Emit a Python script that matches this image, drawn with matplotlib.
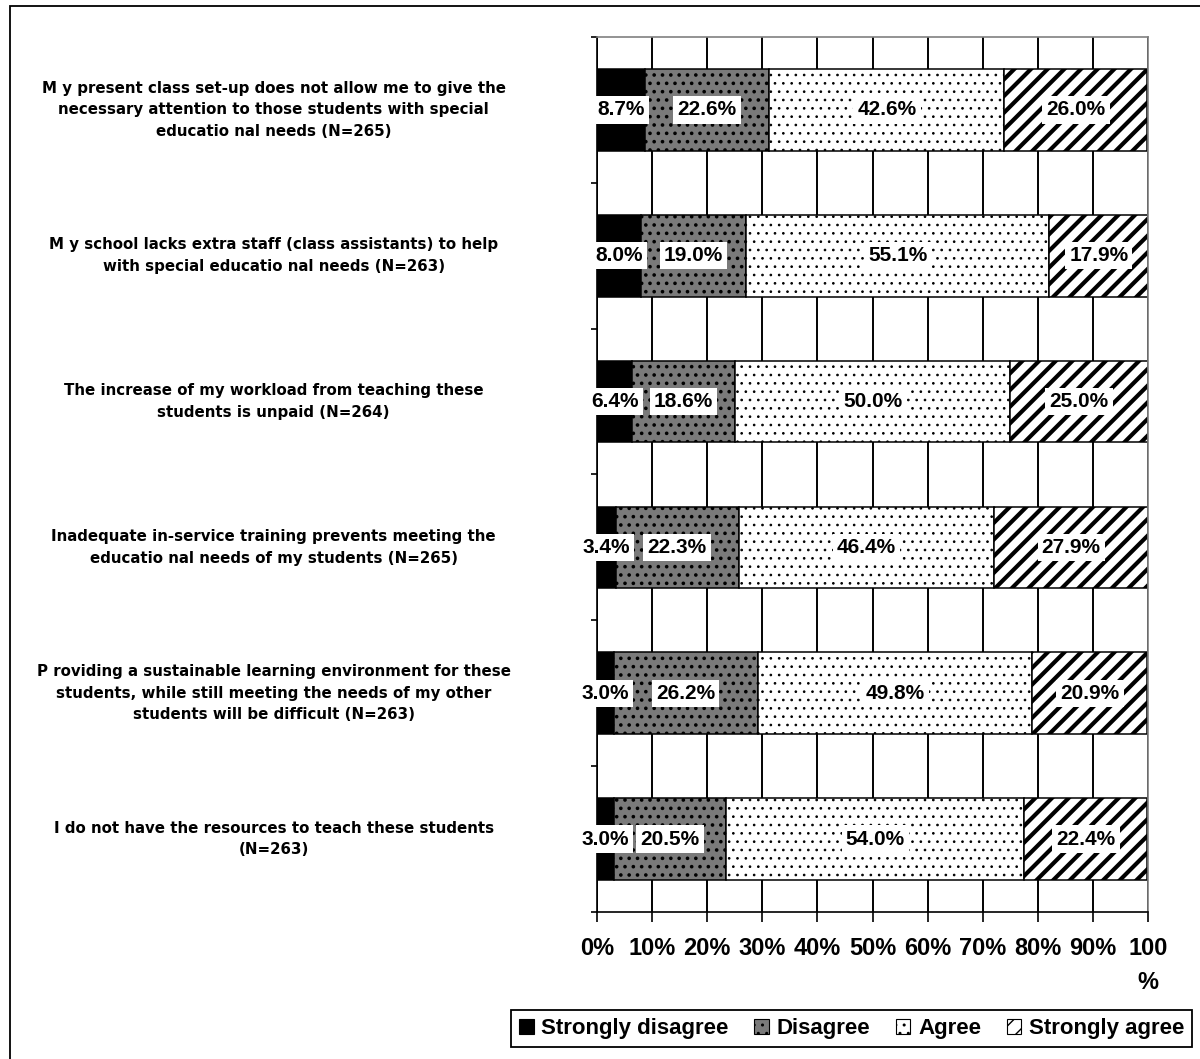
import numpy as np
import matplotlib
matplotlib.use('Agg')
import matplotlib.pyplot as plt
from matplotlib.patches import Patch, Rectangle
from matplotlib.transforms import blended_transform_factory

plt.rcParams['font.family'] = ['Liberation Sans', 'DejaVu Sans']
plt.rcParams['font.weight'] = 'bold'

statements = [
    "M y present class set-up does not allow me to give the\nnecessary attention to those students with special\neducatio nal needs (N=265)",
    "M y school lacks extra staff (class assistants) to help\nwith special educatio nal needs (N=263)",
    "The increase of my workload from teaching these\nstudents is unpaid (N=264)",
    "Inadequate in-service training prevents meeting the\neducatio nal needs of my students (N=265)",
    "P roviding a sustainable learning environment for these\nstudents, while still meeting the needs of my other\nstudents will be difficult (N=263)",
    "I do not have the resources to teach these students\n(N=263)",
]
responses = ['Strongly disagree', 'Disagree', 'Agree', 'Strongly agree']

strongly_disagree = [8.7, 8.0, 6.4, 3.4, 3.0, 3.0]
disagree = [22.6, 19.0, 18.6, 22.3, 26.2, 20.5]
agree = [42.6, 55.1, 50.0, 46.4, 49.8, 54.0]
strongly_agree = [26.0, 17.9, 25.0, 27.9, 20.9, 22.4]

xtick_labels = ['0%', '10%', '20%', '30%', '40%', '50%', '60%', '70%', '80%', '90%', '100\n%']

# fill / hatch per response
styles = [
    dict(color='black', hatch=None, hlw=1.0),
    dict(color='#7a7a7a', hatch='..', hlw=1.4),
    dict(color='white', hatch='..', hlw=0.7),
    dict(color='white', hatch='//', hlw=3.0),
]

fig = plt.figure(figsize=(12, 10.59), dpi=100)
ax = fig.add_axes([0.4975, 0.1388, 0.4592, 0.8263])

y = np.arange(len(statements))
series = [strongly_disagree, disagree, agree, strongly_agree]
left = np.zeros(len(statements))
for vals, st, name in zip(series, styles, responses):
    vals = np.array(vals)
    # hatch line width is read from rcParams when the patch is created
    with plt.rc_context({'hatch.linewidth': st['hlw']}):
        ax.barh(y, vals, left=left, height=0.56, color=st['color'],
                edgecolor='black', linewidth=1.1, hatch=st['hatch'],
                label=name, zorder=2)
    for yi, l, v in zip(y, left, vals):
        ax.text(l + v / 2, yi, f'{v:.1f}%', ha='center', va='center',
                fontsize=15, fontweight='bold', zorder=4,
                bbox=dict(boxstyle='square,pad=0.2', fc='white', ec='none'))
    left += vals

ax.set_xlim(0, 100)
ax.set_ylim(len(statements) - 0.5, -0.5)

ax.set_xticks(np.arange(0, 101, 10))
ax.set_xticklabels(xtick_labels, fontsize=17, fontweight='bold', linespacing=1.6)
ax.tick_params(axis='x', direction='out', length=7, width=1.2, pad=11)
ax.xaxis.grid(True, color='black', linewidth=1.4)
ax.set_axisbelow(True)

ax.set_yticks(np.arange(-0.5, len(statements), 1.0))
ax.set_yticklabels([])
ax.tick_params(axis='y', direction='out', length=4, width=1.2)

for side in ['top', 'right']:
    ax.spines[side].set_color('#808080')
    ax.spines[side].set_linewidth(1.2)
for side in ['left', 'bottom']:
    ax.spines[side].set_color('black')
    ax.spines[side].set_linewidth(1.2)

# statement labels, centred in the left margin
trans = blended_transform_factory(fig.transFigure, ax.transData)
for yi, s in zip(y, statements):
    ax.text(0.228, yi, s, transform=trans, ha='center', va='center',
            multialignment='center', fontsize=10.8, fontweight='bold',
            linespacing=1.55, family=['DejaVu Sans'])

handles = []
for st, name in zip(styles, responses):
    with plt.rc_context({'hatch.linewidth': min(st['hlw'], 1.0)}):
        handles.append(Patch(facecolor=st['color'], edgecolor='black',
                             hatch=st['hatch'], linewidth=0.8, label=name))
leg = fig.legend(handles=handles, loc='lower right', ncol=4,
                 bbox_to_anchor=(0.9933, 0.0113), bbox_transform=fig.transFigure,
                 borderaxespad=0, fancybox=False, edgecolor='black',
                 framealpha=1, prop=dict(size=16, weight='bold'),
                 handlelength=0.65, handleheight=0.65, handletextpad=0.35,
                 columnspacing=1.15, borderpad=0.35)
leg.get_frame().set_linewidth(1.3)

# outer border (top and left edges visible)
fig.patches.append(Rectangle((10 / 1200, -0.1), 1.2, 1.1 - 6 / 1059,
                             transform=fig.transFigure, fill=False,
                             edgecolor='black', linewidth=1.3, clip_on=False))

fig.savefig('out.png', dpi=100)
